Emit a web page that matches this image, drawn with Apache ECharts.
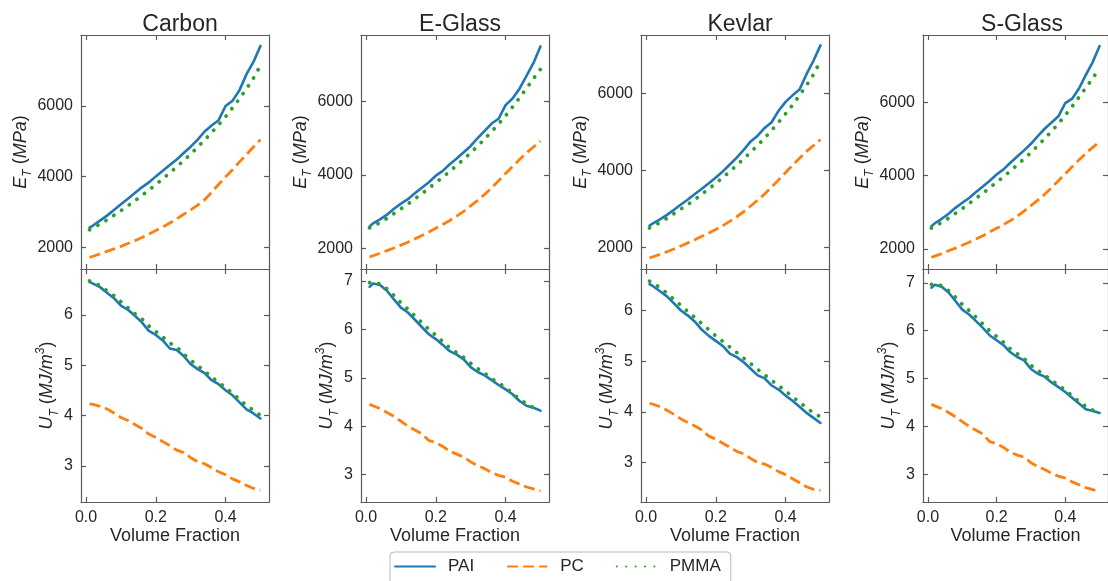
<!DOCTYPE html>
<html>
<head>
<meta charset="utf-8">
<script src="https://cdn.jsdelivr.net/npm/echarts@6/dist/echarts.min.js"></script>
<style>
  html, body { margin: 0; padding: 0; background: #fff; }
  #chart { width: 1108px; height: 581px; }
</style>
</head>
<body>
<div id="chart"></div>
<script>
// Fibre volume fraction (shared x values)
const vf = [0.01,0.02,0.04,0.06,0.08,0.10,0.12,0.14,0.16,0.18,0.20,0.22,0.24,0.26,0.28,0.30,0.32,0.34,0.36,0.38,0.40,0.42,0.44,0.46,0.48,0.50];

const fibres = ['Carbon', 'E-Glass', 'Kevlar', 'S-Glass'];
const matrices = ['PAI', 'PC', 'PMMA'];

// Transverse modulus E_T (MPa)
const carbonEtPAI  = [2560,2620,2760,2900,3060,3220,3380,3540,3700,3840,4010,4170,4330,4490,4670,4850,5050,5280,5450,5600,6000,6150,6450,6900,7250,7700];
const carbonEtPC   = [1720,1750,1820,1890,1960,2030,2110,2190,2280,2380,2480,2580,2690,2810,2940,3060,3200,3350,3560,3780,4000,4200,4420,4630,4840,5050];
const carbonEtPMMA = [2500,2550,2660,2780,2910,3040,3180,3320,3470,3620,3780,3940,4110,4280,4460,4640,4840,5040,5250,5470,5700,5950,6210,6490,6790,7150];

const eglassEtPAI  = [2600,2680,2790,2920,3080,3220,3340,3500,3650,3800,3980,4110,4290,4450,4620,4790,5000,5200,5400,5530,5900,6080,6350,6700,7050,7500];
const eglassEtPC   = [1770,1800,1870,1940,2010,2090,2170,2260,2350,2450,2550,2650,2760,2880,3010,3160,3310,3470,3650,3840,4040,4230,4420,4600,4760,4920];
const eglassEtPMMA = [2560,2610,2700,2820,2950,3080,3210,3350,3490,3640,3790,3940,4100,4260,4430,4600,4790,4980,5180,5390,5610,5850,6100,6360,6620,6880];

const kevlarEtPAI  = [2560,2620,2720,2840,2970,3110,3240,3380,3520,3660,3810,3970,4150,4330,4530,4750,4900,5100,5250,5550,5780,5950,6100,6500,6850,7250];
const kevlarEtPC   = [1720,1750,1810,1880,1950,2030,2110,2190,2280,2370,2460,2560,2670,2790,2920,3070,3220,3380,3560,3750,3940,4130,4310,4490,4640,4800];
const kevlarEtPMMA = [2500,2540,2640,2750,2870,2990,3110,3240,3380,3520,3660,3810,3970,4130,4300,4470,4650,4840,5040,5250,5470,5700,5950,6210,6490,6850];

const sglassEtPAI  = [2620,2700,2820,2960,3120,3260,3390,3550,3700,3860,4030,4170,4350,4520,4690,4870,5080,5280,5450,5620,5980,6100,6380,6750,7100,7540];
const sglassEtPC   = [1770,1800,1870,1950,2020,2100,2180,2270,2360,2460,2560,2660,2770,2890,3030,3180,3330,3490,3670,3860,4050,4240,4430,4610,4770,4930];
const sglassEtPMMA = [2570,2620,2720,2840,2970,3100,3240,3380,3520,3670,3820,3970,4130,4290,4460,4630,4820,5010,5210,5420,5650,5890,6140,6400,6660,6930];

// Transverse toughness U_T (MJ/m^3)
const carbonUtPAI  = [6.65,6.62,6.55,6.44,6.33,6.18,6.10,5.98,5.85,5.68,5.60,5.49,5.33,5.30,5.18,5.02,4.92,4.84,4.70,4.62,4.50,4.40,4.26,4.12,4.04,3.94];
const carbonUtPC   = [4.23,4.22,4.18,4.13,4.05,3.96,3.90,3.82,3.74,3.63,3.56,3.48,3.40,3.31,3.26,3.16,3.08,3.04,2.96,2.88,2.82,2.74,2.68,2.61,2.55,2.52];
const carbonUtPMMA = [6.67,6.64,6.58,6.48,6.38,6.26,6.14,6.02,5.92,5.78,5.67,5.56,5.44,5.36,5.22,5.10,4.99,4.88,4.76,4.66,4.55,4.44,4.32,4.20,4.10,4.00];

const eglassUtPAI  = [6.88,6.95,6.92,6.80,6.62,6.45,6.35,6.20,6.05,5.90,5.80,5.68,5.55,5.48,5.38,5.22,5.12,5.05,4.95,4.85,4.76,4.66,4.52,4.42,4.38,4.32];
const eglassUtPC   = [4.45,4.42,4.36,4.28,4.20,4.10,4.00,3.92,3.84,3.70,3.66,3.58,3.48,3.42,3.36,3.26,3.18,3.12,3.04,2.98,2.94,2.86,2.80,2.74,2.70,2.66];
const eglassUtPMMA = [6.97,6.98,6.94,6.84,6.70,6.55,6.42,6.28,6.14,6.00,5.88,5.75,5.62,5.52,5.42,5.30,5.19,5.09,4.99,4.89,4.80,4.68,4.56,4.46,4.38,4.32];

const kevlarUtPAI  = [6.52,6.48,6.38,6.28,6.14,6.00,5.90,5.78,5.62,5.50,5.40,5.30,5.15,5.08,4.98,4.85,4.72,4.66,4.52,4.44,4.32,4.22,4.10,3.98,3.88,3.78];
const kevlarUtPC   = [4.17,4.15,4.10,4.03,3.95,3.86,3.79,3.72,3.64,3.52,3.46,3.38,3.30,3.22,3.17,3.08,3.00,2.97,2.90,2.82,2.76,2.68,2.60,2.52,2.47,2.45];
const kevlarUtPMMA = [6.58,6.54,6.45,6.34,6.22,6.10,5.98,5.86,5.74,5.62,5.50,5.39,5.28,5.17,5.06,4.95,4.84,4.73,4.62,4.52,4.41,4.30,4.19,4.08,3.98,3.90];

const sglassUtPAI  = [6.90,6.96,6.92,6.80,6.62,6.44,6.34,6.20,6.06,5.90,5.80,5.70,5.55,5.45,5.38,5.20,5.10,5.04,4.92,4.82,4.72,4.60,4.48,4.36,4.32,4.28];
const sglassUtPC   = [4.46,4.43,4.37,4.29,4.20,4.10,4.00,3.92,3.84,3.68,3.64,3.56,3.46,3.40,3.36,3.24,3.16,3.10,3.02,2.96,2.92,2.84,2.78,2.72,2.68,2.64];
const sglassUtPMMA = [6.97,6.98,6.94,6.84,6.70,6.55,6.42,6.28,6.14,6.00,5.88,5.76,5.62,5.52,5.42,5.28,5.17,5.07,4.97,4.86,4.76,4.64,4.52,4.42,4.34,4.28];

// Tick values
const xTicks = [0.0, 0.2, 0.4];
const etTicks = [2000, 4000, 6000];
const utTicksShort = [3, 4, 5, 6];
const utTicksLong = [3, 4, 5, 6, 7];

const etSets = [
  [carbonEtPAI, carbonEtPC, carbonEtPMMA],
  [eglassEtPAI, eglassEtPC, eglassEtPMMA],
  [kevlarEtPAI, kevlarEtPC, kevlarEtPMMA],
  [sglassEtPAI, sglassEtPC, sglassEtPMMA]
];
const utSets = [
  [carbonUtPAI, carbonUtPC, carbonUtPMMA],
  [eglassUtPAI, eglassUtPC, eglassUtPMMA],
  [kevlarUtPAI, kevlarUtPC, kevlarUtPMMA],
  [sglassUtPAI, sglassUtPC, sglassUtPMMA]
];

// Axis extents per column
const etRange = [[1390, 8010], [1440, 7810], [1430, 7520], [1450, 7840]];
const utRange = [[2.28, 6.91], [2.43, 7.25], [2.22, 6.82], [2.42, 7.29]];
const utTickSets = [utTicksShort, utTicksLong, utTicksShort, utTicksLong];
const xRange = [-0.0145, 0.5245];

// Layout
const colLeft = [81, 361, 641, 923];
const colWidth = 188;
const topY = 35, midY = 269, botY = 502;

const TEXT = '#262626';
const AXIS = '#5a5a5a';
const FONT = '"Liberation Sans", Arial, Helvetica, sans-serif';

const lineStyles = [
  { color: '#1f77b4', width: 2.6, type: 'solid', cap: 'round', join: 'round' },
  { color: '#ff7f0e', width: 2.8, type: [11, 5] },
  { color: '#2ca02c', width: 3.8, type: [0.1, 9.3], cap: 'round' }
];

const grids = [], xAxes = [], yAxes = [], series = [], titles = [];

function xAxisPair(gridIndex, showLabels) {
  const base = {
    gridIndex, type: 'value', min: xRange[0], max: xRange[1],
    axisLine: { show: true, onZero: false, lineStyle: { color: AXIS, width: 1.2 } },
    axisTick: { show: true, inside: true, length: 5, customValues: xTicks, lineStyle: { color: AXIS, width: 1.2 } },
    splitLine: { show: false }
  };
  const bottom = Object.assign({}, base, {
    position: 'bottom',
    axisLabel: showLabels
      ? { show: true, customValues: xTicks, formatter: v => v.toFixed(1), fontSize: 16, color: TEXT, fontFamily: FONT, margin: 8 }
      : { show: false },
    name: showLabels ? 'Volume Fraction' : '',
    nameLocation: 'middle', nameGap: 20,
    nameTextStyle: { fontSize: 18, color: TEXT, fontFamily: FONT }
  });
  const top = Object.assign({}, base, { position: 'top', axisLabel: { show: false } });
  xAxes.push(bottom, top);
  return xAxes.length - 2;
}

function yAxisPair(gridIndex, range, ticks, name, nameGap) {
  const base = {
    gridIndex, type: 'value', min: range[0], max: range[1],
    axisLine: { show: true, onZero: false, lineStyle: { color: AXIS, width: 1.2 } },
    axisTick: { show: true, inside: true, length: 5, customValues: ticks, lineStyle: { color: AXIS, width: 1.2 } },
    splitLine: { show: false }
  };
  const left = Object.assign({}, base, {
    position: 'left',
    axisLabel: { show: true, customValues: ticks, formatter: v => String(v), fontSize: 16, color: TEXT, fontFamily: FONT, margin: 8 },
    name: name, nameLocation: 'middle', nameGap: nameGap, nameRotate: 90,
    nameTextStyle: {
      color: TEXT, fontFamily: FONT, fontSize: 18,
      rich: {
        it:  { fontSize: 18, fontStyle: 'italic', color: TEXT, fontFamily: FONT, lineHeight: 26, verticalAlign: 'middle' },
        up:  { fontSize: 18, color: TEXT, fontFamily: FONT, lineHeight: 26, verticalAlign: 'middle' },
        sub: { fontSize: 12, fontStyle: 'italic', color: TEXT, fontFamily: FONT, lineHeight: 26, verticalAlign: 'bottom' },
        sup: { fontSize: 12, fontStyle: 'italic', color: TEXT, fontFamily: FONT, lineHeight: 26, verticalAlign: 'top' }
      }
    }
  });
  const right = Object.assign({}, base, { position: 'right', axisLabel: { show: false } });
  yAxes.push(left, right);
  return yAxes.length - 2;
}

fibres.forEach((fibre, c) => {
  // E_T panel (upper)
  grids.push({ left: colLeft[c], top: topY, width: colWidth, height: midY - topY, containLabel: false });
  let g = grids.length - 1;
  let xi = xAxisPair(g, false);
  let yi = yAxisPair(g, etRange[c], etTicks, '{it|E}{sub|T}{up| (}{it|MPa}{up|)}', 40);
  matrices.forEach((m, k) => {
    series.push({
      name: m, type: 'line', xAxisIndex: xi, yAxisIndex: yi,
      data: vf.map((x, i) => [x, etSets[c][k][i]]),
      showSymbol: false, symbol: 'none', lineStyle: lineStyles[k], itemStyle: { color: lineStyles[k].color },
      z: 2 + k
    });
  });

  // U_T panel (lower)
  grids.push({ left: colLeft[c], top: midY, width: colWidth, height: botY - midY, containLabel: false });
  g = grids.length - 1;
  xi = xAxisPair(g, true);
  yi = yAxisPair(g, utRange[c], utTickSets[c], '{it|U}{sub|T}{up| (}{it|MJ/m}{sup|3}{up|)}', 15);
  matrices.forEach((m, k) => {
    series.push({
      name: m, type: 'line', xAxisIndex: xi, yAxisIndex: yi,
      data: vf.map((x, i) => [x, utSets[c][k][i]]),
      showSymbol: false, symbol: 'none', lineStyle: lineStyles[k], itemStyle: { color: lineStyles[k].color },
      z: 2 + k
    });
  });

  titles.push({
    text: fibre, left: colLeft[c] + colWidth / 2, top: 8, textAlign: 'center',
    textStyle: { fontSize: 23, fontWeight: 'normal', color: TEXT, fontFamily: FONT }
  });
});

const chart = echarts.init(document.getElementById('chart'), null, { renderer: 'canvas' });
chart.setOption({
  animation: false,
  backgroundColor: '#fff',
  title: titles,
  grid: grids,
  xAxis: xAxes,
  yAxis: yAxes,
  legend: {
    data: matrices,
    left: 390, top: 552,
    orient: 'horizontal',
    itemWidth: 40, itemHeight: 14, itemGap: 32,
    padding: [6, 10, 10, 4],
    borderColor: '#bbb', borderWidth: 1, borderRadius: 4,
    itemStyle: { opacity: 0 },
    textStyle: { fontSize: 17, color: TEXT, fontFamily: FONT, padding: [0, 0, 0, 8] }
  },
  series: series
});
</script>
</body>
</html>
